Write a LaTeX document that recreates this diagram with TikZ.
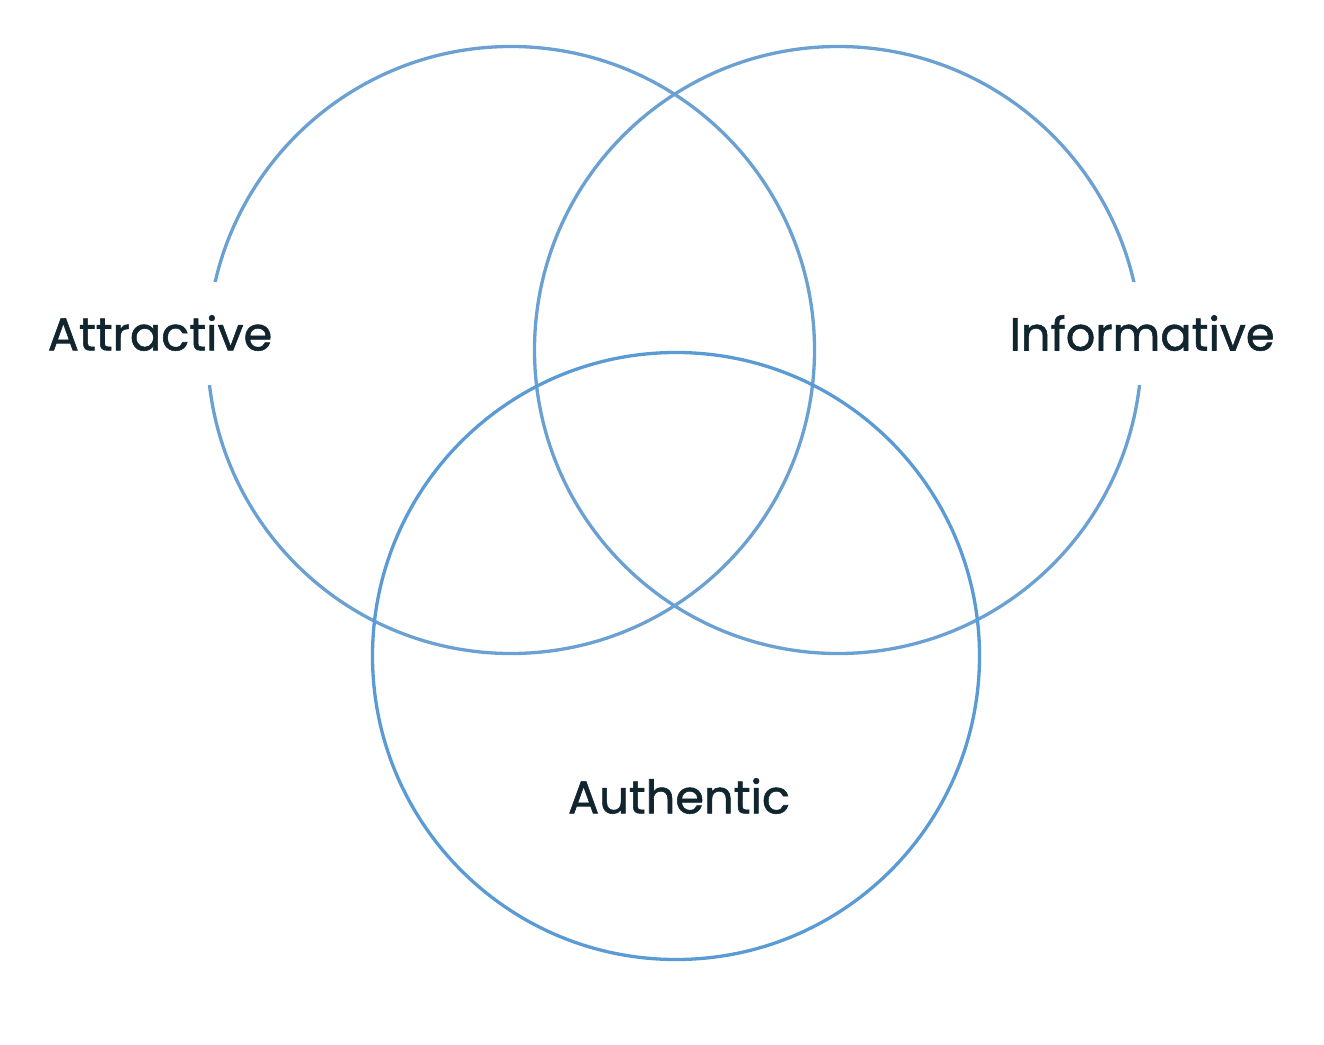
\documentclass[tikz,border=0pt]{standalone}
\usepackage{fontspec}
\setmainfont{Poppins}
\newfontfamily\labfont[FakeBold=1.2]{Poppins}
\definecolor{ringA}{HTML}{6AA0D2}
\definecolor{ringB}{HTML}{5A9BD6}
\definecolor{ink}{HTML}{11252F}
\tikzset{
  ring/.style={draw=ringA, line width=3.3pt},
  ringb/.style={draw=ringB, line width=3.3pt},
  lab/.style={text=ink, font=\labfont\fontsize{46.3}{50}\selectfont, inner sep=0pt},
  labbg/.style={lab, fill=white, minimum height=103pt}
}
\begin{document}
\begin{tikzpicture}[x=1pt,y=-1pt]
\useasboundingbox (0,0) rectangle (1324,1044);
\fill[white] (0,0) rectangle (1324,1044);
\node[ring, circle, minimum size=607pt, inner sep=0pt] (attr) at (511,350) {};
\node[ring, circle, minimum size=607pt, inner sep=0pt] (info) at (838,350) {};
\node[ringb, circle, minimum size=607pt, inner sep=0pt] (auth) at (676,656) {};
\node[labbg] (la) at (160,333) {Attractive};
\node[labbg] (li) at (1142,333) {Informative};
\node[lab] (lu) at (679,796) {Authentic};
\end{tikzpicture}
\end{document}
